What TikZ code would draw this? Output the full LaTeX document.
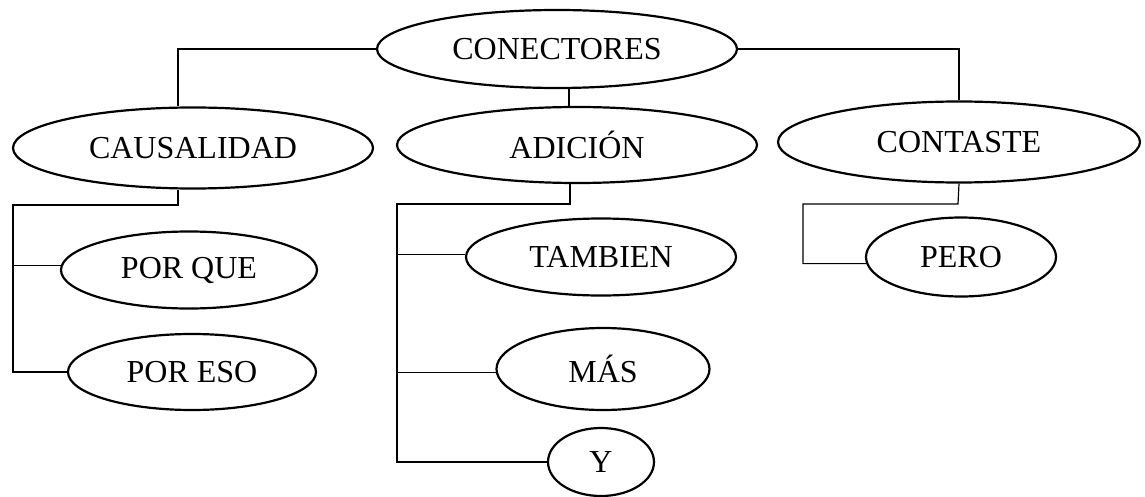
\documentclass[tikz,border=0pt]{standalone}
\usepackage{fontspec}
\setmainfont{Liberation Serif}
\usetikzlibrary{shapes.geometric}
\begin{document}
\begin{tikzpicture}[x=1pt,y=-1pt,
  oval/.style={draw, ellipse, line width=2.2pt, inner sep=0pt,
    font=\fontsize{32}{38}\selectfont},
  link/.style={line width=1.2pt}]
\useasboundingbox (0,0) rectangle (1145,497);
% nodes
\node[oval, minimum width=360, minimum height=78] (con) at (557,49) {CONECTORES};
\node[oval, minimum width=360, minimum height=81] (cau) at (193,148) {CAUSALIDAD};
\node[oval, minimum width=360, minimum height=76] (adi) at (577,145) {ADICIÓN};
\node[oval, minimum width=362, minimum height=81] (cst) at (959,142) {CONTASTE};
\node[oval, minimum width=256, minimum height=77] (pq) at (189,270) {POR QUE};
\node[oval, minimum width=248, minimum height=76] (pe) at (192,372) {POR ESO};
\node[oval, minimum width=270, minimum height=77] (tam) at (601,257) {TAMBIEN};
\node[oval, minimum width=213, minimum height=82] (mas) at (603,369) {MÁS};
\node[oval, minimum width=106, minimum height=68] (yy) at (601,462) {Y};
\node[oval, minimum width=190, minimum height=79] (pero) at (961,257) {PERO};
% junction coordinates
\coordinate (cauj) at (178,205);
\coordinate (caub) at (13,205);
\coordinate (adij) at (570,204);
\coordinate (adib) at (397,204);
\coordinate (cstj) at (958,204);
\coordinate (cstb) at (803,204);
% top level
\draw[link] (con.west) -| ([xshift=-15pt]cau.north);
\draw[link] (con.east) -| (cst.north);
\draw[link] ([xshift=12pt]con.south) -- ([xshift=12pt]con.south |- adi.north);
% causalidad
\draw[link] ([xshift=-15pt]cau.south) -- (cauj) -- (caub) |- (pe.west);
\draw[link] (caub |- pq.178) -- (pq.178);
% adicion
\draw[link] ([xshift=-7pt]adi.south) -- (adij) -- (adib) |- (yy.west);
\draw[link] (adib |- tam.179) -- (tam.179);
\draw[link] (adib |- mas.182) -- (mas.182);
% contraste
\draw[link] (cst.south) -- (cstj) -- (cstb) |- (pero.184);
\end{tikzpicture}
\end{document}
